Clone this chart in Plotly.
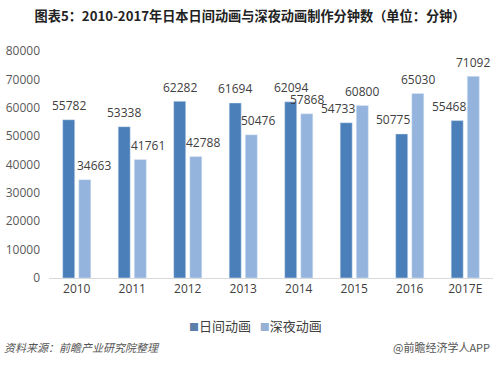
import plotly.graph_objects as go

categories = ["2010", "2011", "2012", "2013", "2014", "2015", "2016", "2017E"]
day_anime = [55782, 53338, 62282, 61694, 62094, 54733, 50775, 55468]
night_anime = [34663, 41761, 42788, 50476, 57868, 60800, 65030, 71092]
series_names = ["日间动画", "深夜动画"]
y_ticks = [0, 10000, 20000, 30000, 40000, 50000, 60000, 70000, 80000]

# styling (not data)
colors = ["#4a7fba", "#94b4de"]
legend_square_colors = ["#5a7fa8", "#97b1d4"]
bar_center_shift = [-8, 8]  # px offset of each series' bar centre from category centre
label_nudge = [[0, 0, 0, 0, 0, -8, -9, -8],
               [9, 8, 7, 7, 0, 0, 0, 0]]

FONT = "Noto Sans CJK SC, Open Sans, sans-serif"
NUMFONT = "Open Sans, sans-serif"

fig = go.Figure()
for name, vals, col in zip(series_names, [day_anime, night_anime], colors):
    fig.add_trace(go.Bar(x=categories, y=vals, name=name, marker=dict(color=col),
                         hoverinfo="skip"))

# data labels drawn above all bars (x = category index on the category axis)
for s, vals in enumerate([day_anime, night_anime]):
    for i, v in enumerate(vals):
        fig.add_annotation(x=i, y=v, text=str(v), showarrow=False,
                           xanchor="center", yanchor="middle",
                           xshift=bar_center_shift[s] + label_nudge[s][i], yshift=14,
                           font=dict(size=12, color="#404040", family=NUMFONT))

fig.update_layout(
    width=500, height=371,
    margin=dict(l=49, r=7, t=51, b=93),
    paper_bgcolor="white", plot_bgcolor="white",
    barmode="group", bargap=0.42, bargroupgap=0.25,
    title=dict(text="<b>图表5：2010-2017年日本日间动画与深夜动画制作分钟数（单位：分钟）</b>",
               x=0.5, xanchor="center", y=0.957, yanchor="middle",
               font=dict(size=13.2, color="#222222", family=FONT)),
    xaxis=dict(type="category", categoryorder="array", categoryarray=categories,
               range=[-0.5, len(categories) - 0.5], autorange=False,
               showgrid=False, showline=True, linecolor="#d9d9d9", linewidth=1,
               ticks="", tickfont=dict(size=12, color="#404040", family=NUMFONT)),
    yaxis=dict(range=[0, 80000], tickvals=y_ticks, ticktext=[str(v) for v in y_ticks],
               showgrid=False, zeroline=False, showline=False, ticks="",
               ticklabelstandoff=8,
               tickfont=dict(size=12, color="#595959", family=NUMFONT)),
    showlegend=False,
)

legend_text = ("<span style='color:%s;font-size:10px'>■</span>%s&nbsp;&nbsp;&nbsp;"
               "<span style='color:%s;font-size:10px'>■</span>%s") % (
    legend_square_colors[0], series_names[0], legend_square_colors[1], series_names[1])
fig.add_annotation(text=legend_text, xref="paper", yref="paper",
                   x=0.5, y=0, xanchor="center", yanchor="middle", showarrow=False,
                   xshift=-16, yshift=-47,
                   font=dict(size=13, color="#404040", family=FONT))

fig.add_annotation(text="<i>资料来源：前瞻产业研究院整理</i>", xref="paper", yref="paper",
                   x=0, y=0, xanchor="left", yanchor="middle", showarrow=False,
                   xshift=-47, yshift=-69,
                   font=dict(size=11, color="#555555", family=FONT))
fig.add_annotation(text="@前瞻经济学人APP", xref="paper", yref="paper",
                   x=1.0, y=0, xanchor="right", yanchor="middle", showarrow=False,
                   xshift=-1, yshift=-69,
                   font=dict(size=11, color="#555555", family=FONT))

fig.write_html("out.html", config={"displayModeBar": False},
               post_script="document.body.style.margin='0';")
